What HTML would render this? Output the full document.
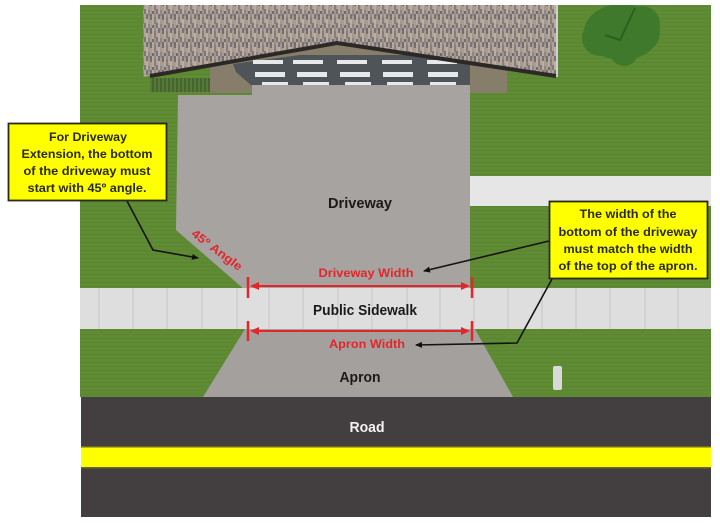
<!DOCTYPE html>
<html><head><meta charset="utf-8"><style>
html,body{margin:0;padding:0;background:#fff;}
svg{display:block;}
text{font-family:"Liberation Sans",Arial,sans-serif;font-weight:bold;}
</style></head><body>
<svg width="720" height="524" viewBox="0 0 720 524" xmlns="http://www.w3.org/2000/svg">
<defs>
<pattern id="roof" width="12" height="14" patternUnits="userSpaceOnUse">
<rect width="12" height="14" fill="#958b84"/>
<rect x="0" y="0" width="2" height="9" fill="#b2a396"/>
<rect x="0" y="9" width="2" height="5" fill="#7c787e"/>
<rect x="2" y="0" width="2" height="5" fill="#77737a"/>
<rect x="2" y="5" width="2" height="9" fill="#bdae9f"/>
<rect x="4" y="2" width="2" height="8" fill="#a69a8c"/>
<rect x="4" y="10" width="2" height="4" fill="#8a8690"/>
<rect x="6" y="0" width="2" height="6" fill="#716d71"/>
<rect x="6" y="6" width="2" height="8" fill="#ab9d90"/>
<rect x="8" y="0" width="2" height="11" fill="#b8a999"/>
<rect x="8" y="11" width="2" height="3" fill="#6f6b70"/>
<rect x="10" y="3" width="2" height="7" fill="#827e86"/>
<rect x="10" y="10" width="2" height="4" fill="#a39589"/>
</pattern>
<pattern id="grass" width="6" height="4" patternUnits="userSpaceOnUse">
<rect width="6" height="4" fill="#5e8b34"/>
<rect y="2" width="6" height="1" fill="#5a8630"/>
</pattern>
<pattern id="hedge" width="4" height="4" patternUnits="userSpaceOnUse">
<rect width="4" height="4" fill="#56783a"/>
<rect width="2" height="4" fill="#46652c"/>
</pattern>
<marker id="ah" markerWidth="8" markerHeight="8" refX="6" refY="4" orient="auto" markerUnits="userSpaceOnUse">
<path d="M0,1 L7,4 L0,7 Z" fill="#111"/>
</marker>
</defs>

<!-- grass -->
<rect x="80" y="5" width="631" height="392" fill="url(#grass)"/>

<!-- tree -->
<g fill="#3f7a2c">
<ellipse cx="622" cy="32" rx="38" ry="28"/>
<circle cx="600" cy="38" r="18"/>
<circle cx="642" cy="24" r="18"/>
<circle cx="624" cy="52" r="14"/>
</g>
<path d="M635 8 L620 40 L605 35" stroke="#2d5e1e" stroke-width="2" fill="none"/>
<rect x="560" y="0" width="120" height="5" fill="#fff"/>

<!-- white path right -->
<rect x="470" y="176" width="241" height="30" fill="#e6e6e6"/>

<!-- hedge -->
<rect x="150" y="78" width="70" height="14" fill="url(#hedge)"/>

<!-- garage gable & side blocks -->
<polygon points="210,64 337,43 507,67 507,93 470,93 470,85 252,85 252,93 210,93" fill="#877d6b"/>
<!-- garage door panel -->
<polygon points="233,64 300,55 420,55 470,62 470,86 252,86 236,72" fill="#4e5458"/>
<g fill="#e6e8ea">
<rect x="253" y="60" width="30" height="4"/>
<rect x="293" y="60" width="30" height="4"/>
<rect x="337" y="60" width="30" height="4"/>
<rect x="382" y="60" width="30" height="4"/>
<rect x="427" y="60" width="30" height="4"/>
<rect x="255" y="72" width="30" height="5"/>
<rect x="297" y="72" width="30" height="5"/>
<rect x="340" y="72" width="30" height="5"/>
<rect x="383" y="72" width="30" height="5"/>
<rect x="428" y="72" width="30" height="5"/>
<rect x="262" y="82" width="26" height="3"/>
<rect x="303" y="82" width="26" height="3"/>
<rect x="345" y="82" width="26" height="3"/>
<rect x="387" y="82" width="26" height="3"/>
<rect x="430" y="82" width="26" height="3"/>
</g>

<!-- roof -->
<polygon points="143,5 558,5 558,77 553,75 337,44 153,75 143,77" fill="url(#roof)"/>
<rect x="556" y="5" width="2" height="72" fill="#cfcfcf"/>
<polyline points="150,76 337,43 556,76" fill="none" stroke="#2c2826" stroke-width="4"/>

<!-- driveway -->
<polygon points="178,95 252,95 252,85 470,85 470,290 245,290 176,230" fill="#a6a3a0"/>

<!-- sidewalk -->
<rect x="80" y="288" width="631" height="41" fill="#dedede"/>
<g stroke="#c6c6c6" stroke-width="1">
<line x1="99" y1="288" x2="99" y2="329"/>
<line x1="133" y1="288" x2="133" y2="329"/>
<line x1="167" y1="288" x2="167" y2="329"/>
<line x1="202" y1="288" x2="202" y2="329"/>
<line x1="237" y1="288" x2="237" y2="329"/>
<line x1="269" y1="288" x2="269" y2="329"/>
<line x1="303" y1="288" x2="303" y2="329"/>
<line x1="338" y1="288" x2="338" y2="329"/>
<line x1="372" y1="288" x2="372" y2="329"/>
<line x1="407" y1="288" x2="407" y2="329"/>
<line x1="440" y1="288" x2="440" y2="329"/>
<line x1="474" y1="288" x2="474" y2="329"/>
<line x1="508" y1="288" x2="508" y2="329"/>
<line x1="542" y1="288" x2="542" y2="329"/>
<line x1="576" y1="288" x2="576" y2="329"/>
<line x1="610" y1="288" x2="610" y2="329"/>
<line x1="645" y1="288" x2="645" y2="329"/>
<line x1="678" y1="288" x2="678" y2="329"/>
</g>

<!-- apron -->
<polygon points="245,329 475,329 513,397 203,397" fill="#a3a09d"/>

<!-- post -->
<rect x="553" y="366" width="9" height="24" rx="2" fill="#d9d9d9"/>

<!-- road -->
<rect x="81" y="397" width="630" height="120" fill="#433f40"/>
<rect x="81" y="447" width="630" height="21" fill="#ffff00"/>
<rect x="81" y="446" width="630" height="1.5" fill="#6b6a20"/>
<rect x="81" y="467" width="630" height="1.5" fill="#6b6a20"/>

<!-- labels -->
<text x="360" y="208" font-size="14.5" fill="#1a1a1a" text-anchor="middle" textLength="64" lengthAdjust="spacingAndGlyphs">Driveway</text>
<text x="365" y="315" font-size="14.5" fill="#1a1a1a" text-anchor="middle" textLength="104" lengthAdjust="spacingAndGlyphs">Public Sidewalk</text>
<text x="360" y="382" font-size="14.5" fill="#1a1a1a" text-anchor="middle" textLength="41" lengthAdjust="spacingAndGlyphs">Apron</text>
<text x="367" y="432" font-size="14.5" fill="#f2f2f2" text-anchor="middle" textLength="35" lengthAdjust="spacingAndGlyphs">Road</text>

<!-- red dimension lines -->
<g stroke="#e3262b" fill="#e3262b">
<line x1="252" y1="286" x2="468" y2="286" stroke-width="2"/>
<line x1="248" y1="277" x2="248" y2="298" stroke-width="2.5"/>
<line x1="472" y1="277" x2="472" y2="298" stroke-width="2.5"/>
<path d="M250,286 L259,282 L259,290 Z" stroke="none"/>
<path d="M470,286 L461,282 L461,290 Z" stroke="none"/>
<line x1="252" y1="331" x2="468" y2="331" stroke-width="2"/>
<line x1="248" y1="321" x2="248" y2="341" stroke-width="2.5"/>
<line x1="472" y1="321" x2="472" y2="341" stroke-width="2.5"/>
<path d="M250,331 L259,327 L259,335 Z" stroke="none"/>
<path d="M470,331 L461,327 L461,335 Z" stroke="none"/>
</g>
<text x="366" y="277" font-size="12" fill="#e3262b" text-anchor="middle" textLength="95" lengthAdjust="spacingAndGlyphs">Driveway Width</text>
<text x="367" y="348" font-size="12" fill="#e3262b" text-anchor="middle" textLength="76" lengthAdjust="spacingAndGlyphs">Apron Width</text>
<text x="217" y="254" font-size="12" fill="#e3262b" text-anchor="middle" transform="rotate(37 217 250)" textLength="60" lengthAdjust="spacingAndGlyphs">45º Angle</text>

<!-- connectors -->
<g stroke="#141414" stroke-width="1.6" fill="none">
<polyline points="127,201 153,250 198,258" marker-end="url(#ah)"/>
<line x1="549" y1="241" x2="424" y2="271" marker-end="url(#ah)"/>
<polyline points="552,279 517,343 416,345" marker-end="url(#ah)"/>
</g>

<!-- callouts -->
<rect x="8.5" y="123.5" width="158" height="77" fill="#ffff00" stroke="#2a2a1a" stroke-width="1.8"/>
<g font-size="12" fill="#2a2a10" text-anchor="middle">
<text x="88" y="141" textLength="78" lengthAdjust="spacingAndGlyphs">For Driveway</text>
<text x="87" y="158" textLength="131" lengthAdjust="spacingAndGlyphs">Extension, the bottom</text>
<text x="87" y="175" textLength="127" lengthAdjust="spacingAndGlyphs">of the driveway must</text>
<text x="87" y="192" textLength="119" lengthAdjust="spacingAndGlyphs">start with 45º angle.</text>
</g>
<rect x="549.5" y="201.5" width="158" height="77" fill="#ffff00" stroke="#2a2a1a" stroke-width="1.8"/>
<g font-size="12" fill="#2a2a10" text-anchor="middle">
<text x="628" y="218" textLength="97" lengthAdjust="spacingAndGlyphs">The width of the</text>
<text x="628" y="236" textLength="139" lengthAdjust="spacingAndGlyphs">bottom of the driveway</text>
<text x="628" y="253" textLength="129" lengthAdjust="spacingAndGlyphs">must match the width</text>
<text x="628" y="270" textLength="139" lengthAdjust="spacingAndGlyphs">of the top of the apron.</text>
</g>
</svg>
</body></html>
